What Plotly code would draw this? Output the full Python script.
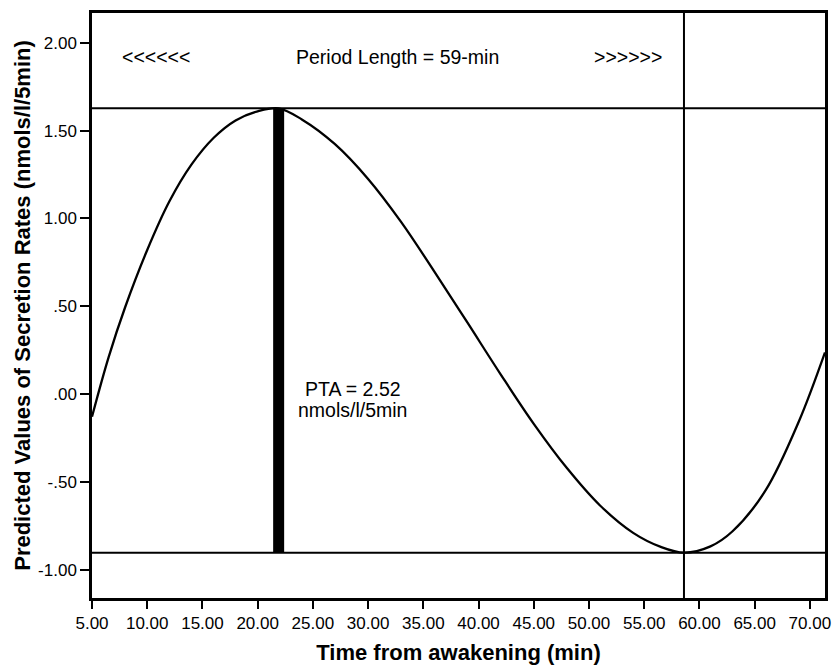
import plotly.graph_objects as go

# Curve values (minutes after awakening, predicted secretion rate)
time_min = [5.0, 6.5, 8.0, 10.0, 12.0, 14.0, 16.0, 18.0, 20.0, 21.9,
            24.0, 27.0, 30.0, 33.0, 36.0, 39.0, 42.0, 45.0, 48.0, 51.0, 54.0, 56.5, 58.6,
            61.0, 63.0, 66.0, 69.0, 71.37]
predicted = [-0.129, 0.209, 0.494, 0.820, 1.096, 1.306, 1.458, 1.558, 1.610, 1.627,
             1.564, 1.423, 1.225, 0.979, 0.697, 0.406, 0.112, -0.170, -0.422, -0.635, -0.791, -0.871, -0.904,
             -0.868, -0.782, -0.548, -0.157, 0.237]

peak_level = 1.627
trough_level = -0.904
trough_time = 58.6
pta_time = 21.9

x_range = [5.0, 71.37]
y_range = [-1.162, 2.170]

x_tickvals = [5, 10, 15, 20, 25, 30, 35, 40, 45, 50, 55, 60, 65, 70]
x_ticktext = ["5.00", "10.00", "15.00", "20.00", "25.00", "30.00", "35.00", "40.00",
              "45.00", "50.00", "55.00", "60.00", "65.00", "70.00"]
y_tickvals = [2.0, 1.5, 1.0, 0.5, 0.0, -0.5, -1.0]
y_ticktext = ["2.00", "1.50", "1.00", ".50", ".00", "-.50", "-1.00"]

font_family = "Liberation Sans, Arial, sans-serif"

fig = go.Figure()
fig.add_trace(go.Scatter(x=time_min, y=predicted, mode="lines",
                         line=dict(color="black", width=2.3, shape="spline", smoothing=1.0),
                         showlegend=False, hoverinfo="skip"))
# thick PTA bar
fig.add_trace(go.Scatter(x=[pta_time, pta_time], y=[trough_level, peak_level], mode="lines",
                         line=dict(color="black", width=11), showlegend=False, hoverinfo="skip"))

shapes = [
    dict(type="line", xref="x", yref="y", x0=x_range[0], x1=x_range[1], y0=peak_level, y1=peak_level,
         line=dict(color="black", width=2)),
    dict(type="line", xref="x", yref="y", x0=x_range[0], x1=x_range[1], y0=trough_level, y1=trough_level,
         line=dict(color="black", width=2)),
    dict(type="line", xref="x", yref="y", x0=trough_time, x1=trough_time, y0=y_range[0], y1=y_range[1],
         line=dict(color="black", width=2)),
]

ann_font = dict(size=19.5, color="black", family=font_family)
annotations = [
    dict(x=10.8, y=1.919, text="<<<<<<", showarrow=False, font=ann_font),
    dict(x=32.7, y=1.919, text="Period Length = 59-min", showarrow=False, font=ann_font),
    dict(x=53.5, y=1.919, text=">>>>>>", showarrow=False, font=ann_font),
    dict(x=28.6, y=0.028, text="PTA = 2.52", showarrow=False, font=ann_font),
    dict(x=28.6, y=-0.094, text="nmols/l/5min", showarrow=False, font=ann_font),
]

fig.update_layout(
    width=833, height=665,
    margin=dict(l=92, r=8, t=13, b=67),
    paper_bgcolor="white", plot_bgcolor="white",
    font=dict(family=font_family, color="black", size=17),
    shapes=shapes, annotations=annotations,
    xaxis=dict(range=x_range, tickvals=x_tickvals, ticktext=x_ticktext, automargin=False,
               showgrid=False, zeroline=False, showline=True, linecolor="black", linewidth=2.5,
               mirror=True, ticks="outside", ticklen=8, tickwidth=2, tickcolor="black",
               tickfont=dict(size=17, family=font_family),
               title=dict(text="<b>Time from awakening (min)</b>", font=dict(size=22, family=font_family),
                          standoff=13)),
    yaxis=dict(range=y_range, tickvals=y_tickvals, ticktext=y_ticktext, automargin=False,
               showgrid=False, zeroline=False, showline=True, linecolor="black", linewidth=2.5,
               mirror=True, ticks="outside", ticklen=9, tickwidth=2, tickcolor="black",
               tickfont=dict(size=17, family=font_family),
               title=dict(text="<b>Predicted Values of Secretion Rates (nmols/l/5min)</b>",
                          font=dict(size=22, family=font_family), standoff=2)),
)

fig.write_html("out.html")
